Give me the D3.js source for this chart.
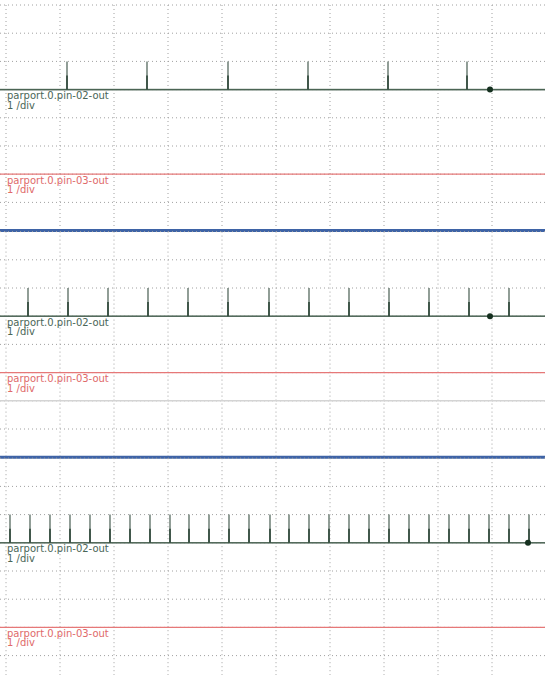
<!DOCTYPE html>
<html>
<head>
<meta charset="utf-8">
<script src="https://cdn.jsdelivr.net/npm/d3@7"></script>
<style>
  body { margin: 0; background: #fff; }
  svg { display: block; }
</style>
</head>
<body>
<svg id="scope"></svg>
<script>
// Three halscope captures stacked: pin-02 pulse train at three rates, pin-03 flat

const chartWidth = 545;
const chartHeight = 675;

// sample index of each rising pulse on pin-02, one list per capture
const pulsesTop = [61, 141, 222, 302, 382, 461];
const pulsesMiddle = [22, 62, 102, 142, 182, 222, 263, 303, 343, 383, 423, 463, 503];
const pulsesBottom = [4, 24, 44, 64, 84, 104, 124, 144, 164, 183, 203, 223, 243, 264,
    283, 303, 323, 343, 363, 383, 403, 423, 443, 463, 483, 503, 523];
const panelPulses = [pulsesTop, pulsesMiddle, pulsesBottom];

// cursor sample per capture
const cursorSamples = [484, 484, 522];

// channel offsets in divisions from the top of each capture
const pin02Offsets = [3, 3, 3];
const pin03Offsets = [6, 5, 6];
const extraLineDivs = [null, 6, null];

const channelNames = ["parport.0.pin-02-out", "parport.0.pin-03-out"];
const channelScales = ["1 /div", "1 /div"];

const sampleCount = 540;
const xDivs = 10;
const yDivs = 8;

const margin = { top: 5, left: 6 };
const divW = 54;
const divH = 28.2;
const panelH = divH * yDivs;
const panelStep = 226.6;

const svg = d3.select("#scope")
    .attr("width", chartWidth)
    .attr("height", chartHeight);

svg.append("rect")
    .attr("width", chartWidth)
    .attr("height", chartHeight)
    .attr("fill", "#fff");

const xScale = d3.scaleLinear()
    .domain([0, sampleCount])
    .range([margin.left, margin.left + divW * xDivs]);

const xGrid = d3.range(0, sampleCount + 1, sampleCount / xDivs);

panelPulses.forEach((pulses, i) => {
    const top = margin.top + i * panelStep;
    const g = svg.append("g").attr("class", "panel");

    // divisions counted from the top of this capture
    const divScale = d3.scaleLinear()
        .domain([0, yDivs])
        .range([top, top + panelH]);

    // a channel value maps to (offset - value) divisions at 1 /div
    const chanY = offset => v => divScale(offset - v);
    const y02 = chanY(pin02Offsets[i]);
    const y03 = chanY(pin03Offsets[i]);

    // grid
    g.selectAll(".hgrid")
        .data(d3.range(0, yDivs + 1))
        .join("line")
        .attr("class", "hgrid")
        .attr("x1", 0)
        .attr("x2", chartWidth)
        .attr("y1", d => divScale(d))
        .attr("y2", d => divScale(d))
        .attr("stroke", "#a0a0a0")
        .attr("stroke-width", 1)
        .attr("stroke-dasharray", "1,3");

    g.selectAll(".vgrid")
        .data(xGrid)
        .join("line")
        .attr("class", "vgrid")
        .attr("x1", d => xScale(d))
        .attr("x2", d => xScale(d))
        .attr("y1", top)
        .attr("y2", top + panelH)
        .attr("stroke", "#a0a0a0")
        .attr("stroke-width", 1)
        .attr("stroke-dasharray", "1,3");

    if (extraLineDivs[i] !== null) {
        g.append("line")
            .attr("x1", 0)
            .attr("x2", chartWidth)
            .attr("y1", divScale(extraLineDivs[i]))
            .attr("y2", divScale(extraLineDivs[i]))
            .attr("stroke", "#d4d4d4")
            .attr("stroke-width", 1.5);
    }

    // pin-03: flat at zero
    g.append("line")
        .attr("x1", 0)
        .attr("x2", chartWidth)
        .attr("y1", y03(0))
        .attr("y2", y03(0))
        .attr("stroke", "#e67878")
        .attr("stroke-width", 1.2);

    // pin-02 trace
    const tracePts = [[-margin.left, 0]];
    pulses.forEach(t => {
        tracePts.push([t, 0], [t, 1], [t, 0]);
    });
    tracePts.push([sampleCount, 0]);

    const line = d3.line()
        .x(d => xScale(d[0]))
        .y(d => y02(d[1]));

    g.append("path")
        .datum(tracePts)
        .attr("fill", "none")
        .attr("stroke", "#76867d")
        .attr("stroke-width", 1.6)
        .attr("d", line);

    g.append("line")
        .attr("x1", 0)
        .attr("x2", chartWidth)
        .attr("y1", y02(0))
        .attr("y2", y02(0))
        .attr("stroke", "#46604f")
        .attr("stroke-width", 1);

    g.selectAll(".pulse-low")
        .data(pulses)
        .join("line")
        .attr("class", "pulse-low")
        .attr("x1", d => xScale(d))
        .attr("x2", d => xScale(d))
        .attr("y1", y02(0))
        .attr("y2", y02(0.5))
        .attr("stroke", "#2c4638")
        .attr("stroke-width", 1.6);

    g.append("circle")
        .attr("cx", xScale(cursorSamples[i]))
        .attr("cy", y02(0))
        .attr("r", 3)
        .attr("fill", "#15301f");

    // labels
    const labels = [
        { y: y02(0), color: "#4a6657", k: 0 },
        { y: y03(0), color: "#e06a6a", k: 1 }
    ];
    labels.forEach(l => {
        g.append("text")
            .attr("x", 7)
            .attr("y", l.y + 9.5)
            .attr("font-family", "DejaVu Sans, sans-serif")
            .attr("font-size", "10px")
            .attr("fill", l.color)
            .text(channelNames[l.k]);
        g.append("text")
            .attr("x", 7)
            .attr("y", l.y + 19)
            .attr("font-family", "DejaVu Sans, sans-serif")
            .attr("font-size", "10px")
            .attr("fill", l.color)
            .text(channelScales[l.k]);
    });

    // capture separator
    g.append("line")
        .attr("x1", 0)
        .attr("x2", chartWidth)
        .attr("y1", top + panelH)
        .attr("y2", top + panelH)
        .attr("stroke", "#3e63a6")
        .attr("stroke-width", 3);
});
</script>
</body>
</html>
